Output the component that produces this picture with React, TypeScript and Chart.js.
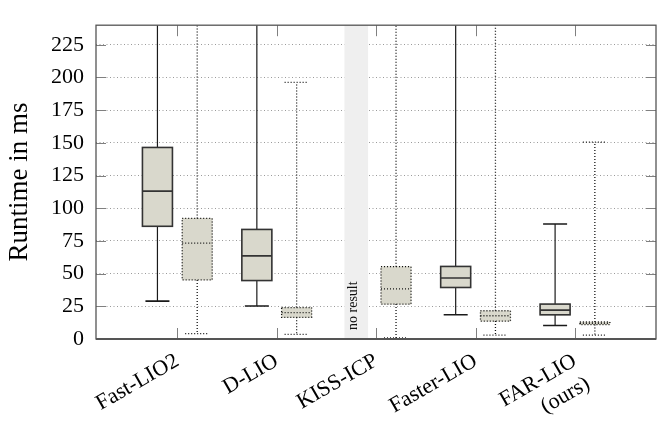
import React, { useEffect, useRef } from 'react';
import { Chart, registerables } from 'chart.js';

Chart.register(...registerables);

// ---------- data ----------
const categories: (string | string[])[] = ['Fast-LIO2', 'D-LIO', 'KISS-ICP', 'Faster-LIO', ['FAR-LIO', '(ours)']];
const yTickValues = [0, 25, 50, 75, 100, 125, 150, 175, 200, 225];
const yMax = 240;

// solid boxes (260 = whisker runs beyond the top of the axis)
const solidMin = [29.0, 25.2, null, 18.5, 10.3];
const solidQ1 = [86.2, 44.7, null, 39.4, 18.5];
const solidMedian = [113.1, 63.6, null, 46.6, 22.1];
const solidQ3 = [146.5, 83.8, null, 55.5, 26.7];
const solidMax = [260, 260, null, 260, 87.9];

// dotted boxes
const dottedMin = [4.1, 3.6, 0.8, 2.9, 2.9];
const dottedQ1 = [45.2, 16.6, 26.7, 13.7, 11.0];
const dottedMedian = [73.3, 20.2, 38.4, 17.8, 12.0];
const dottedQ3 = [92.2, 24.0, 55.3, 21.6, 13.0];
const dottedMax = [260, 196.2, 260, 260, 150.6];

const noResult = [false, false, true, false, false];
const noResultText = 'no result';

// ---------- style ----------
const FONT = "'Liberation Serif', 'Times New Roman', serif";
const SOLID_OFFSET = -0.2;
const DOTTED_OFFSET = 0.2;
const BOX_FILL = '#d9d8cc';

Chart.defaults.font.family = FONT;
Chart.defaults.color = '#000';

type Group = {
  ds: number;
  min: (number | null)[];
  q1: (number | null)[];
  med: (number | null)[];
  q3: (number | null)[];
  max: (number | null)[];
  dash: number[];
};

const boxPlugin = {
  id: 'boxDetails',
  afterDatasetsDraw(chart: any) {
    const { ctx, chartArea, scales } = chart;
    const ys = scales.y;
    const xs = scales.x;
    ctx.save();
    ctx.beginPath();
    ctx.rect(chartArea.left, chartArea.top, chartArea.right - chartArea.left, chartArea.bottom - chartArea.top);
    ctx.clip();

    // "no result" text
    noResult.forEach((flag, i) => {
      if (!flag) return;
      const x = xs.getPixelForValue(i + SOLID_OFFSET) - 3;
      const y = ys.getPixelForValue(0) - 9;
      ctx.save();
      ctx.translate(x, y);
      ctx.rotate(-Math.PI / 2);
      ctx.font = `14px ${FONT}`;
      ctx.fillStyle = '#111';
      ctx.textAlign = 'left';
      ctx.textBaseline = 'middle';
      ctx.fillText(noResultText, 0, 0);
      ctx.restore();
    });

    const groups: Group[] = [
      { ds: 1, min: solidMin, q1: solidQ1, med: solidMedian, q3: solidQ3, max: solidMax, dash: [] },
      { ds: 2, min: dottedMin, q1: dottedQ1, med: dottedMedian, q3: dottedQ3, max: dottedMax, dash: [1, 2] },
    ];
    groups.forEach((g) => {
      const meta = chart.getDatasetMeta(g.ds);
      meta.data.forEach((el: any, k: number) => {
        if (g.q1[k] == null) return;
        const cx = el.x;
        const half = el.width / 2;
        const capHalf = 12;
        const yq1 = ys.getPixelForValue(g.q1[k]);
        const yq3 = ys.getPixelForValue(g.q3[k]);
        const ymed = ys.getPixelForValue(g.med[k]);
        const ymin = ys.getPixelForValue(g.min[k]);
        const ymax = ys.getPixelForValue(g.max[k]);
        const solid = g.dash.length === 0;
        ctx.setLineDash(g.dash);
        // whiskers
        ctx.strokeStyle = solid ? '#1a1a1a' : '#111';
        ctx.lineWidth = solid ? 1.2 : 1.3;
        ctx.beginPath();
        ctx.moveTo(cx, yq3);
        ctx.lineTo(cx, ymax);
        ctx.moveTo(cx, yq1);
        ctx.lineTo(cx, ymin);
        ctx.stroke();
        // caps
        ctx.lineWidth = solid ? 1.6 : 1.3;
        ctx.beginPath();
        ctx.moveTo(cx - capHalf, ymax);
        ctx.lineTo(cx + capHalf, ymax);
        ctx.moveTo(cx - capHalf, ymin);
        ctx.lineTo(cx + capHalf, ymin);
        ctx.stroke();
        // box outline
        ctx.strokeStyle = solid ? '#333' : '#111';
        ctx.lineWidth = solid ? 1.6 : 1.3;
        ctx.strokeRect(cx - half, yq3, half * 2, yq1 - yq3);
        // median
        ctx.beginPath();
        ctx.moveTo(cx - half, ymed);
        ctx.lineTo(cx + half, ymed);
        ctx.stroke();
      });
    });
    ctx.restore();
  },
  afterDraw(chart: any) {
    const { ctx, chartArea, scales } = chart;
    const { left, right, top, bottom } = chartArea;
    ctx.save();
    // inward tick marks
    ctx.strokeStyle = '#808080';
    ctx.lineWidth = 1;
    ctx.setLineDash([]);
    ctx.beginPath();
    categories.forEach((_, i) => {
      const x = Math.round(scales.x.getPixelForValue(i)) + 0.5;
      ctx.moveTo(x, top);
      ctx.lineTo(x, top + 11);
      ctx.moveTo(x, bottom);
      ctx.lineTo(x, bottom - 11);
    });
    yTickValues.forEach((v) => {
      const y = Math.round(scales.y.getPixelForValue(v)) + 0.5;
      ctx.moveTo(left, y);
      ctx.lineTo(left + 10, y);
      ctx.moveTo(right, y);
      ctx.lineTo(right - 10, y);
    });
    ctx.stroke();
    // frame
    ctx.strokeStyle = '#555';
    ctx.lineWidth = 1.3;
    ctx.strokeRect(left, top, right - left, bottom - top);
    ctx.lineWidth = 1.8;
    ctx.beginPath();
    ctx.moveTo(left, bottom);
    ctx.lineTo(right, bottom);
    ctx.stroke();
    ctx.restore();
  },
};

export default function App() {
  const canvasRef = useRef<HTMLCanvasElement | null>(null);

  useEffect(() => {
    if (!canvasRef.current) return;
    const boxData = (q1: (number | null)[], q3: (number | null)[], off: number) =>
      categories.map((_, i) => ({ x: i + off, y: q1[i] == null ? null : [q1[i], q3[i]] }));

    const chart = new Chart(canvasRef.current, {
      type: 'bar',
      data: {
        datasets: [
          {
            label: 'no result',
            data: categories.map((_, i) => ({ x: i + SOLID_OFFSET, y: noResult[i] ? [0, yMax] : null })) as any,
            backgroundColor: '#efefef',
            borderWidth: 0,
            grouped: false,
            barThickness: 23,
            maxBarThickness: 23,
          },
          {
            label: 'solid',
            data: boxData(solidQ1, solidQ3, SOLID_OFFSET) as any,
            backgroundColor: BOX_FILL,
            borderWidth: 0,
            grouped: false,
            barThickness: 30,
            maxBarThickness: 30,
          },
          {
            label: 'dotted',
            data: boxData(dottedQ1, dottedQ3, DOTTED_OFFSET) as any,
            backgroundColor: BOX_FILL,
            borderWidth: 0,
            grouped: false,
            barThickness: 30,
            maxBarThickness: 30,
          },
        ],
      },
      options: {
        responsive: false,
        animation: false,
        layout: { padding: { left: 0, right: 8, top: 6, bottom: 0 } },
        plugins: { legend: { display: false }, tooltip: { enabled: false } },
        scales: {
          x: {
            type: 'linear',
            min: -0.818,
            max: 4.815,
            offset: false,
            grid: { display: false, drawTicks: false },
            border: { display: false },
            afterBuildTicks: (s: any) => {
              s.ticks = categories.map((_, i) => ({ value: i }));
            },
            afterFit: (s: any) => {
              s.height = 89;
            },
            ticks: {
              autoSkip: false,
              minRotation: 30,
              maxRotation: 30,
              padding: 9,
              color: '#000',
              font: { size: 22, family: FONT },
              callback: (v: any) => categories[Math.round(Number(v))] as any,
            },
          },
          y: {
            type: 'linear',
            min: 0,
            max: yMax,
            afterBuildTicks: (s: any) => {
              s.ticks = yTickValues.map((v) => ({ value: v }));
            },
            grid: { color: '#9a9a9a', lineWidth: 1, drawTicks: false },
            border: { display: false, dash: [1, 2.5] },
            ticks: {
              color: '#000',
              padding: 12,
              autoSkip: false,
              font: { size: 22, family: FONT },
            },
            title: {
              display: true,
              text: 'Runtime in ms',
              color: '#000',
              font: { size: 27, family: FONT },
              padding: { top: 4, bottom: 2.6 },
            },
          },
        },
      } as any,
      plugins: [boxPlugin],
    });
    return () => chart.destroy();
  }, []);

  return (
    <div style={{ position: 'fixed', left: 0, top: 0, width: 664, height: 428, background: '#fff' }}>
      <canvas ref={canvasRef} width={664} height={428} style={{ width: 664, height: 428 }} />
    </div>
  );
}
